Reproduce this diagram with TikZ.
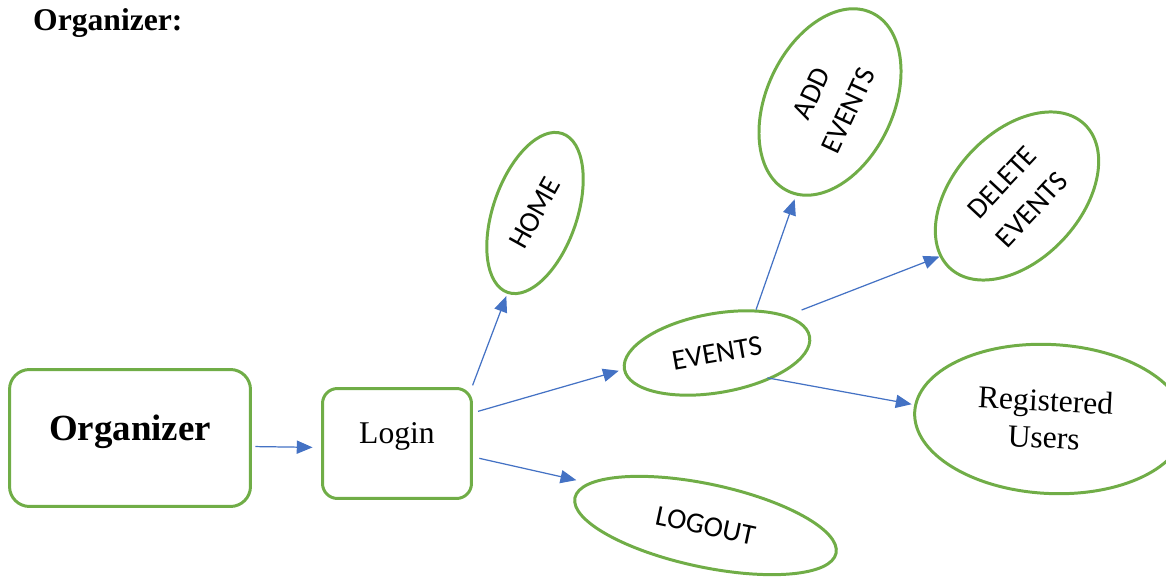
\documentclass[tikz,border=0pt]{standalone}
\usepackage{fontspec}
\setmainfont{Liberation Serif}
\newfontfamily\calibri{Carlito}
\usepackage{graphicx}
\usetikzlibrary{shapes.geometric,arrows.meta}
\definecolor{leafgreen}{HTML}{70AD47}
\definecolor{linkblue}{HTML}{4472C4}

\begin{document}
\begin{tikzpicture}[x=0.02cm,y=-0.02cm,
    box/.style={draw=leafgreen,line width=1.7pt,align=center},
    bubble/.style={ellipse,draw=leafgreen,line width=1.7pt,inner sep=0pt,align=center,font=\calibri\fontsize{16.5}{23}\selectfont},
    link/.style={draw=linkblue,line width=0.7pt,-{Triangle[length=9pt,width=7.5pt]}}]
    \clip (0,0) rectangle (1166,577);
    \node[anchor=base west,font=\bfseries\fontsize{18}{21}\selectfont] (title) at (27,31) {Organizer:};
    % boxes
    \node[box,rounded corners=0.4cm,minimum width=4.82cm,minimum height=2.74cm,text height=14pt,text depth=11pt,font=\bfseries\fontsize{21}{25}\selectfont] (org) at (130,438) {Organizer};
    \node[box,rounded corners=0.3cm,minimum width=2.98cm,minimum height=2.2cm,text height=12pt,text depth=12pt,font=\fontsize{18}{21}\selectfont] (login) at (397,443.5) {Login};
    % ellipses
    \node[bubble,rotate=71,minimum width=3.36cm,minimum height=1.68cm] (home) at (535,213) {\rotatebox{-10}{HOME}};
    \node[bubble,rotate=10,minimum width=3.76cm,minimum height=1.58cm] (events) at (717,353) {EVENTS};
    \node[bubble,rotate=65,minimum width=3.94cm,minimum height=2.54cm] (addev) at (830,102) {ADD\\EVENTS};
    \node[bubble,rotate=47,minimum width=3.94cm,minimum height=2.54cm] (delev) at (1017,196) {DELETE\\EVENTS};
    \node[bubble,rotate=-3,minimum width=5.42cm,minimum height=2.98cm,font=\fontsize{18}{21}\selectfont] (users) at (1050,419) {Registered\hspace*{6pt}\\Users\hspace*{6pt}};
    \node[bubble,rotate=-12,minimum width=5.34cm,minimum height=1.66cm] (logout) at (705.5,525.5) {LOGOUT};
    % arrows
    \draw[link,shorten <=2pt,shorten >=4.8pt] (org.-4) -- (login.183);
    \draw[link,shorten <=1pt,shorten >=1.4pt] (login.37) -- (home.west);
    \draw[link,shorten <=3pt,shorten >=2.5pt] (login.22) -- (events.west);
    \draw[link,shorten <=3.7pt,shorten >=7pt] (login.-10) -- (logout.172);
    \draw[link,shorten >=2.3pt] (events.38) -- (addev.185);
    \draw[link,shorten <=8.5pt] (events.18) -- (delev.171);
    \draw[link,shorten <=-2.8pt,shorten >=1.5pt] (events.-35) -- (users.177);
\end{tikzpicture}
\end{document}
